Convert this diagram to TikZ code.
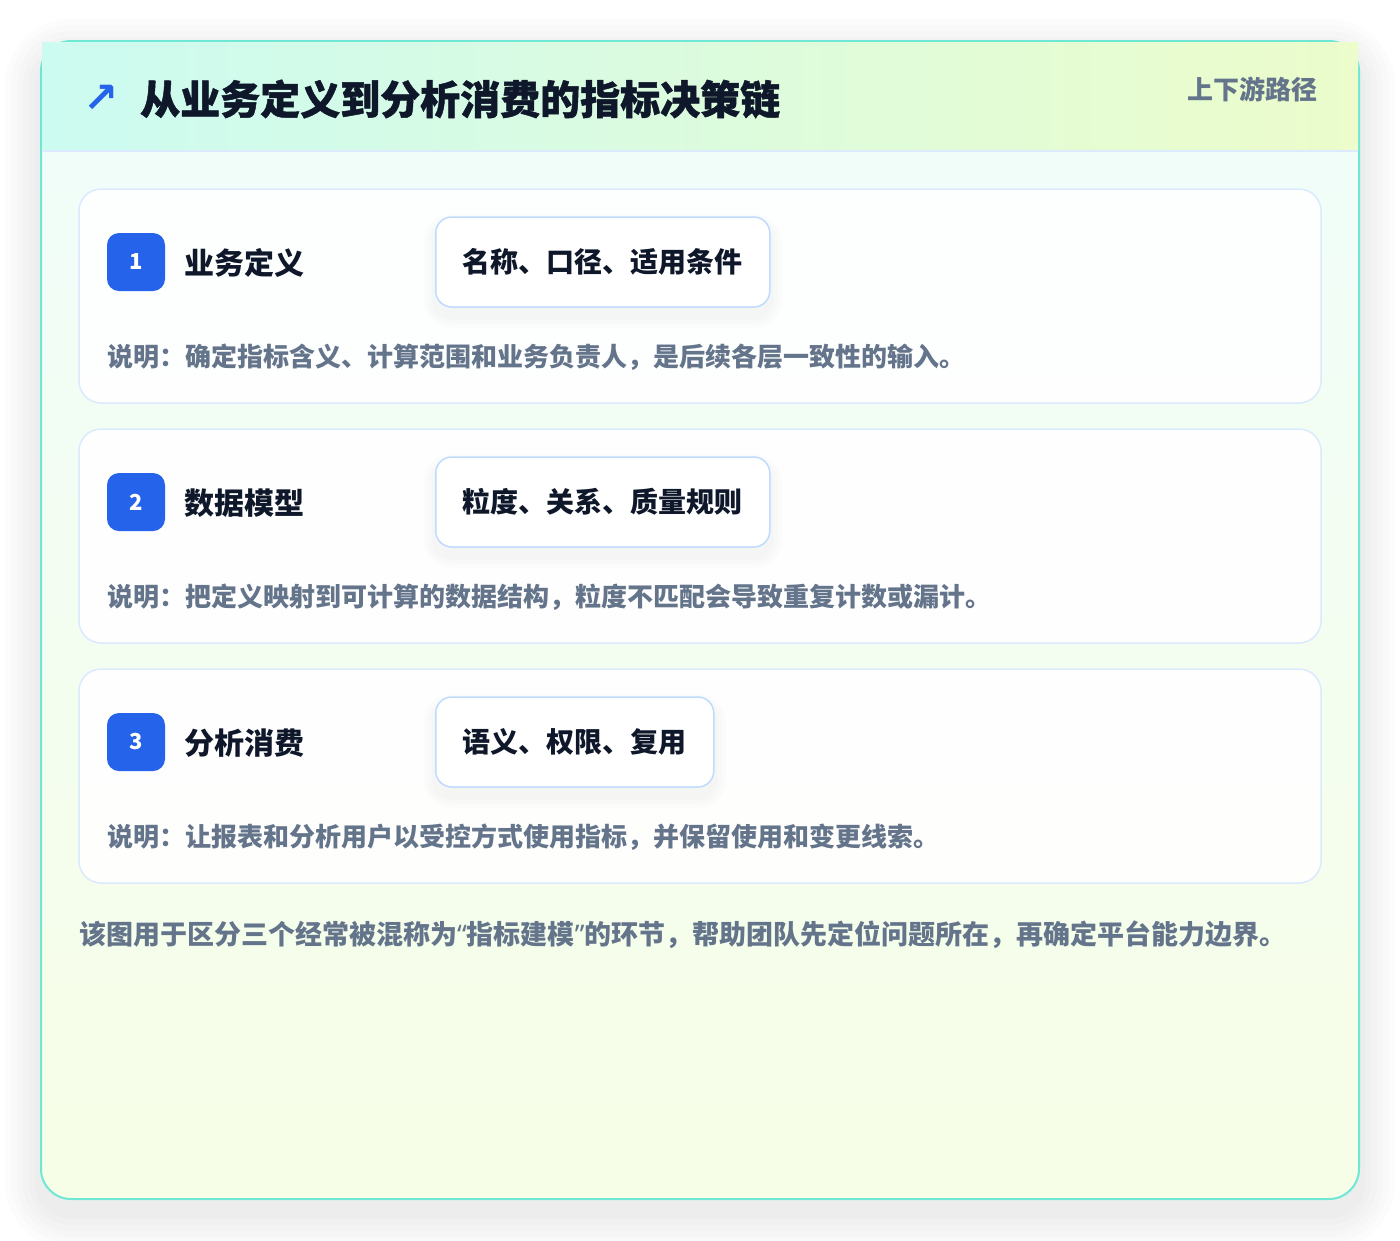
\documentclass[tikz,border=0pt]{standalone}
\usepackage{fontspec}
\setmainfont{Noto Sans CJK SC}
\newfontfamily\heavyfont{Noto Sans CJK SC}[BoldFeatures={FakeBold=1.2}]
\newfontfamily\symfont{DejaVu Sans}
\newfontfamily\latinfont{Noto Sans}
\usetikzlibrary{calc}
\pgfdeclarelayer{back}
\pgfdeclarelayer{shade}
\pgfsetlayers{back,shade,main}
\definecolor{ink}{HTML}{0F172A}
\definecolor{slate}{HTML}{64748B}
\definecolor{badgeblue}{HTML}{2563EB}
\definecolor{tealborder}{HTML}{6EE7D4}
\definecolor{headleft}{HTML}{CCFBF1}
\definecolor{headright}{HTML}{ECFCCB}
\definecolor{bodytop}{HTML}{F0FDFA}
\definecolor{bodybot}{HTML}{F7FEE7}
\definecolor{cardborder}{HTML}{DBEAFE}
\definecolor{tagborder}{HTML}{BFDBFE}
\begin{document}
\begin{tikzpicture}[x=1pt,y=-1pt,
  stepcard/.style={draw=cardborder, line width=1.5pt, fill=white, fill opacity=0.9, draw opacity=1,
    rounded corners=22, minimum width=1242, minimum height=214, inner sep=0},
  badge/.style={fill=badgeblue, rounded corners=12, minimum size=58, inner sep=0, text=white,
    font=\bfseries\fontsize{22}{22}\selectfont},
  steptitle/.style={anchor=west, inner sep=0, text=ink, font=\bfseries\fontsize{30}{30}\selectfont},
  tagbox/.style={draw=tagborder, line width=1.5pt, fill=white, rounded corners=16, minimum height=90,
    inner xsep=27, inner ysep=0, anchor=west, text=ink, font=\bfseries\fontsize{28}{28}\selectfont},
  desc/.style={anchor=west, inner sep=0, text=slate, font=\bfseries\fontsize{26}{26}\selectfont}
]
\useasboundingbox (0,0) rectangle (1400,1240);
\begin{pgfonlayer}{back}
\fill[white] (0,0) rectangle (1400,1240);
% outer card soft shadow
\foreach \i in {6,12,...,36}{
  \pgfmathsetmacro\rr{30+\i}
  \fill[black, opacity=0.01, rounded corners=\rr pt] (41-\i,41-\i+14) rectangle (1359+\i,1199+\i+14);
}
\shade[top color=bodytop, bottom color=bodybot, rounded corners=30] (41,41) rectangle (1359,1199);
\draw[tealborder, line width=2pt, rounded corners=30] (41,41) rectangle (1359,1199);
% header
\shade[left color=headleft, right color=headright] (42,42) rectangle (1358,151);
\draw[cardborder, line width=1.5pt] (42,151) -- (1358,151);
% step cards
\node[stepcard] (card1) at (700,296) {};
\node[stepcard] (card2) at (700,536) {};
\node[stepcard] (card3) at (700,776) {};
\end{pgfonlayer}
\node[inner sep=0, text=badgeblue, font=\symfont\bfseries\fontsize{42}{42}\selectfont] (icon) at (101,99) {↗};
\node[anchor=west, inner sep=0, text=ink, font=\heavyfont\bfseries\fontsize{40}{40}\selectfont] (title) at (140,99) {从业务定义到分析消费的指标决策链};
\node[anchor=east, inner sep=0, text=slate, font=\bfseries\fontsize{26}{26}\selectfont] (path) at (1318,89) {上下游路径};
% step 1
\node[badge] (b1) at (136,262) {1};
\node[steptitle] (t1) at (184,263) {业务定义};
\node[tagbox] (g1) at (435,262) {名称、口径、适用条件};
\node[desc] (d1) at (107,357) {说明：确定指标含义、计算范围和业务负责人，是后续各层一致性的输入。};
% step 2
\node[badge] (b2) at (136,502) {2};
\node[steptitle] (t2) at (184,503) {数据模型};
\node[tagbox] (g2) at (435,502) {粒度、关系、质量规则};
\node[desc] (d2) at (107,597) {说明：把定义映射到可计算的数据结构，粒度不匹配会导致重复计数或漏计。};
% step 3
\node[badge] (b3) at (136,742) {3};
\node[steptitle] (t3) at (184,743) {分析消费};
\node[tagbox] (g3) at (435,742) {语义、权限、复用};
\node[desc] (d3) at (107,837) {说明：让报表和分析用户以受控方式使用指标，并保留使用和变更线索。};
% tag shadows
\begin{pgfonlayer}{shade}
\foreach \g in {g1,g2,g3}{
  \foreach \i in {3,7,11}{
    \pgfmathsetmacro\rr{16+\i}
    \fill[black, opacity=0.01, rounded corners=\rr pt] ($(\g.north west)+(-\i,-\i+9)$) rectangle ($(\g.south east)+(\i,\i+9)$);
  }
}
\end{pgfonlayer}
% footer
\node[anchor=west, inner sep=0, text=slate, font=\bfseries\fontsize{27}{27}\selectfont] (foot) at (79,935) {该图用于区分三个经常被混称为{\latinfont\bfseries “}指标建模{\latinfont\bfseries ”}的环节，帮助团队先定位问题所在，再确定平台能力边界。};
\end{tikzpicture}
\end{document}
